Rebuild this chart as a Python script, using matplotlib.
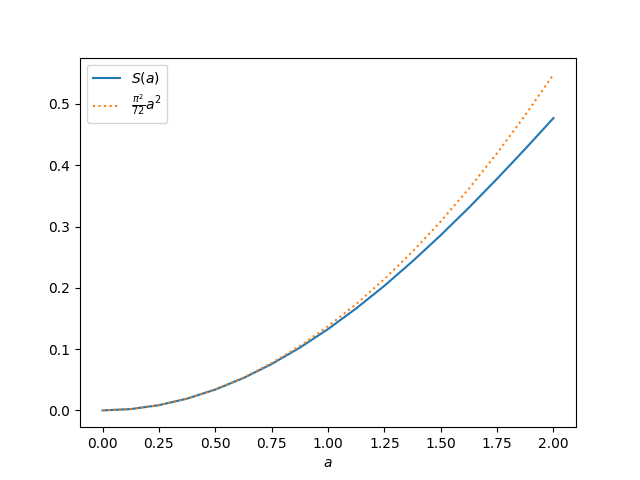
import matplotlib
matplotlib.use("Agg")
import matplotlib.pyplot as plt

# values
a_vals = [0, 0.125, 0.25, 0.375, 0.5, 0.625, 0.75, 0.875, 1.0,
          1.125, 1.25, 1.375, 1.5, 1.625, 1.75, 1.875, 2.0]
S_vals = [0, 0.00214, 0.00855, 0.0192, 0.0340, 0.0528, 0.0757, 0.1024, 0.1326,
          0.1664, 0.2033, 0.2433, 0.2859, 0.3309, 0.3780, 0.4268, 0.4770]
approx_vals = [0, 0.00214, 0.00857, 0.0193, 0.0343, 0.0535, 0.0771, 0.1050, 0.1371,
               0.1735, 0.2142, 0.2592, 0.3084, 0.3620, 0.4198, 0.4819, 0.5483]

fig = plt.figure(figsize=(6.4, 4.8), dpi=100)
plt.plot(a_vals, S_vals, label=r"$S(a)$")
plt.plot(a_vals, approx_vals, ":", label=r"$\frac{\pi^2}{72}a^2$")
plt.xlabel(r"$a$")
plt.legend(loc="upper left")
plt.savefig("out.png")
